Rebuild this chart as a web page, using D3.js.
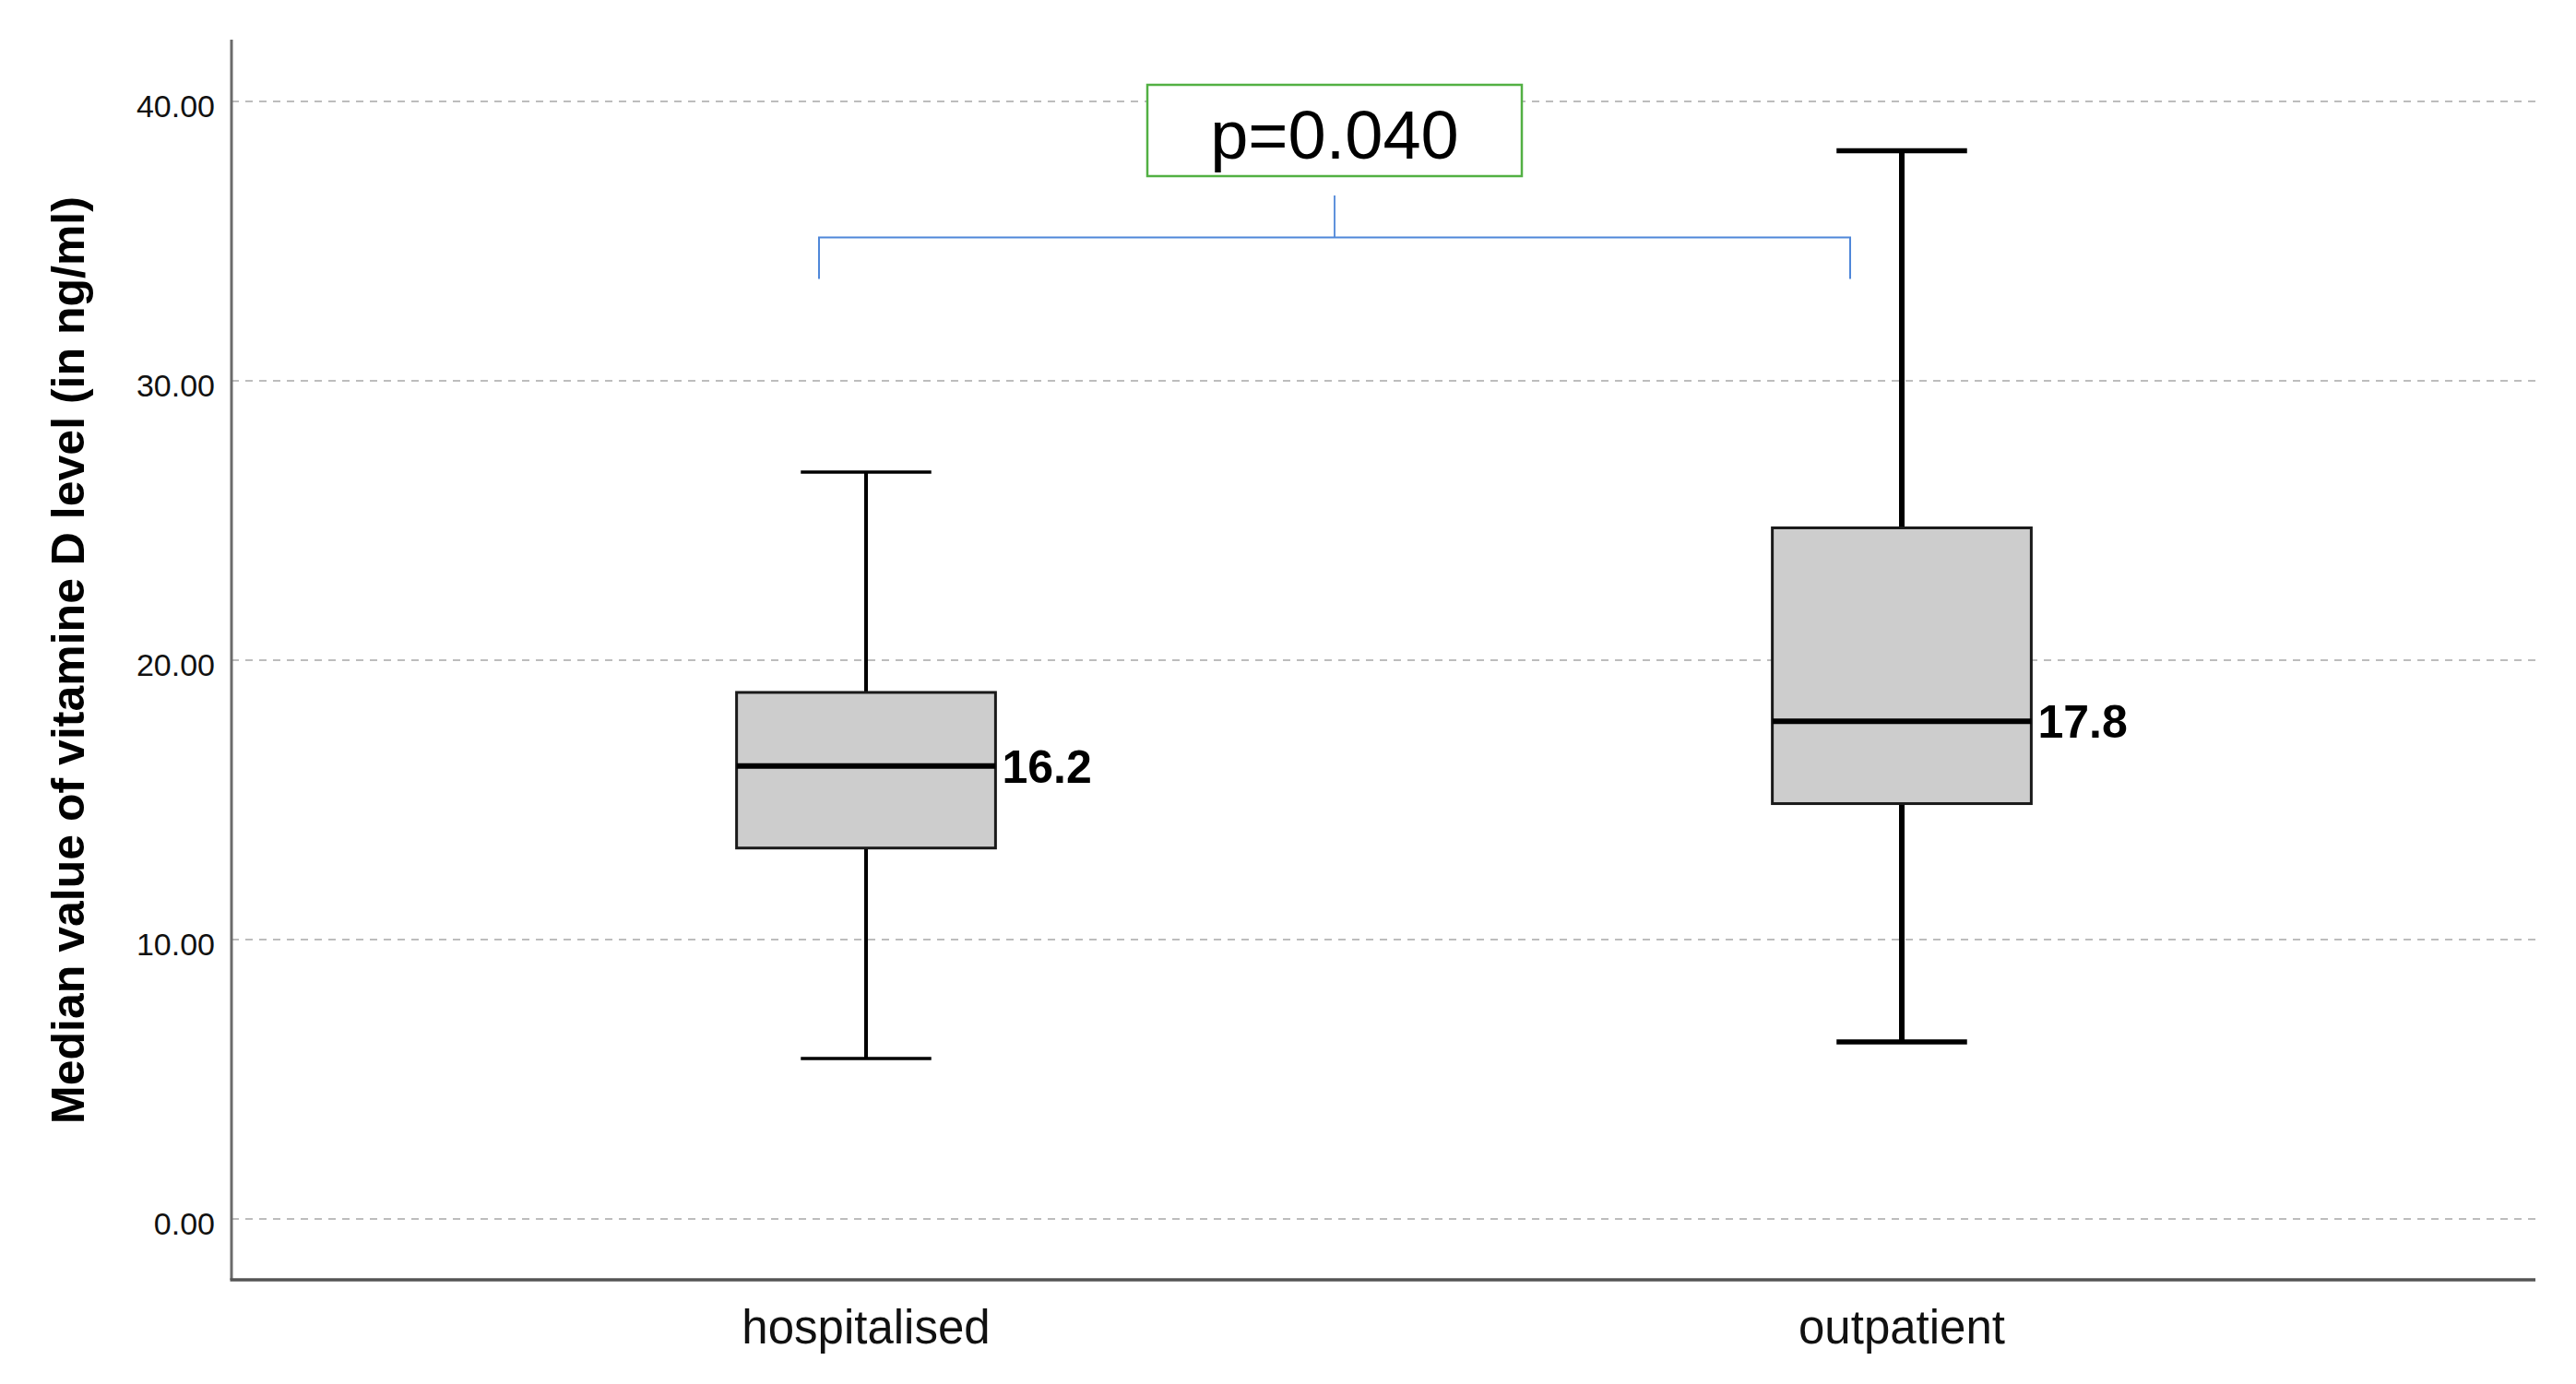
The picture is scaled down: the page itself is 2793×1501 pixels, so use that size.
<!DOCTYPE html>
<html>
<head>
<meta charset="utf-8">
<script src="https://cdn.jsdelivr.net/npm/d3@7"></script>
<style>
  html, body { margin: 0; padding: 0; background: #fff; }
  svg { display: block; }
</style>
</head>
<body>
<script>
// ---- data ----
const categories = ["hospitalised", "outpatient"];
const whiskerLow  = [5.73, 6.32];
const q1Values    = [13.26, 14.85];
const medians     = [16.2, 17.8];
const q3Values    = [18.83, 24.72];
const whiskerHigh = [26.72, 38.22];
const medianLabels = ["16.2", "17.8"];
const yTicks = [0, 10, 20, 30, 40];
const pValueText = "p=0.040";
const yTitle = "Median value of vitamine D level (in ng/ml)";

const W = 2793, H = 1501;
const svg = d3.select("body").append("svg").attr("width", W).attr("height", H);

const axisX = 251, axisTop = 43, axisBottom = 1388, plotRight = 2749;

const y = d3.scaleLinear().domain([0, 40]).range([1321.5, 109.5]);
const x = d3.scaleBand().domain(categories).range([377.5, 2623.5]);
const bw = x.bandwidth();
const boxW = bw * 0.25;
const capW = bw * 0.126;
const cx = c => x(c) + bw / 2;

const data = categories.map((c, i) => ({
  c, lo: whiskerLow[i], q1: q1Values[i], med: medians[i], q3: q3Values[i], hi: whiskerHigh[i],
  label: medianLabels[i], wW: i === 0 ? 4 : 6
}));

// gridlines
const grid = svg.append("g").attr("transform", `translate(${axisX},0)`)
  .call(d3.axisLeft(y).tickValues(yTicks).tickSize(-(plotRight - axisX)).tickFormat(""));
grid.select(".domain").remove();
grid.selectAll(".tick line")
  .attr("stroke", "#bdbdbd").attr("stroke-width", 2.2).attr("stroke-dasharray", "8,7");

// y tick labels
const yl = svg.append("g").attr("transform", `translate(233,0)`)
  .call(d3.axisLeft(y).tickValues(yTicks).tickSize(0).tickPadding(0).tickFormat(d3.format(".2f")));
yl.select(".domain").remove();
yl.selectAll(".tick text")
  .attr("font-family", "Liberation Sans, Arial, sans-serif")
  .attr("font-size", 34).attr("fill", "#111").attr("dy", "0.5em").attr("x", 0);

// axes lines
svg.append("line").attr("x1", axisX).attr("x2", axisX).attr("y1", axisTop).attr("y2", axisBottom)
  .attr("stroke", "#6b6b6b").attr("stroke-width", 3);
svg.append("line").attr("x1", axisX - 1.5).attr("x2", plotRight).attr("y1", axisBottom).attr("y2", axisBottom)
  .attr("stroke", "#555").attr("stroke-width", 3.5);

// x labels
const xl = svg.append("g").attr("transform", `translate(0,${axisBottom})`)
  .call(d3.axisBottom(x).tickSize(0).tickPadding(0));
xl.select(".domain").remove();
xl.selectAll(".tick text")
  .attr("font-family", "Liberation Sans, Arial, sans-serif")
  .attr("font-size", 51).attr("fill", "#111").attr("dy", null).attr("y", 69);

// y title
svg.append("text")
  .attr("transform", `translate(91,716) rotate(-90)`)
  .attr("text-anchor", "middle")
  .attr("font-family", "Liberation Sans, Arial, sans-serif")
  .attr("font-weight", "bold").attr("font-size", 50).attr("fill", "#000")
  .text(yTitle);

// boxplots
const g = svg.append("g");
const box = g.selectAll("g.box").data(data).join("g").attr("class", "box");

box.append("line").attr("x1", d => cx(d.c)).attr("x2", d => cx(d.c))
  .attr("y1", d => y(d.hi)).attr("y2", d => y(d.q3))
  .attr("stroke", "#000").attr("stroke-width", d => d.wW);
box.append("line").attr("x1", d => cx(d.c)).attr("x2", d => cx(d.c))
  .attr("y1", d => y(d.q1)).attr("y2", d => y(d.lo))
  .attr("stroke", "#000").attr("stroke-width", d => d.wW);
box.append("line").attr("x1", d => cx(d.c) - capW / 2).attr("x2", d => cx(d.c) + capW / 2)
  .attr("y1", d => y(d.hi)).attr("y2", d => y(d.hi))
  .attr("stroke", "#000").attr("stroke-width", d => d.wW - 0.5);
box.append("line").attr("x1", d => cx(d.c) - capW / 2).attr("x2", d => cx(d.c) + capW / 2)
  .attr("y1", d => y(d.lo)).attr("y2", d => y(d.lo))
  .attr("stroke", "#000").attr("stroke-width", d => d.wW - 0.5);
box.append("rect")
  .attr("x", d => cx(d.c) - boxW / 2).attr("width", boxW)
  .attr("y", d => y(d.q3)).attr("height", d => y(d.q1) - y(d.q3))
  .attr("fill", "#cdcdcd").attr("stroke", "#1a1a1a").attr("stroke-width", 3);
box.append("line").attr("x1", d => cx(d.c) - boxW / 2).attr("x2", d => cx(d.c) + boxW / 2)
  .attr("y1", d => y(d.med)).attr("y2", d => y(d.med))
  .attr("stroke", "#000").attr("stroke-width", 6);
box.append("text")
  .attr("x", d => cx(d.c) + boxW / 2 + 7).attr("y", d => y(d.med) + 18)
  .attr("font-family", "Liberation Sans, Arial, sans-serif")
  .attr("font-weight", "bold").attr("font-size", 50).attr("fill", "#000")
  .text(d => d.label);

// significance bracket
const bx1 = cx(categories[0]) - 51, bx2 = cx(categories[1]) - 56;
const by = 257.5, byEnd = 302.5;
const bmid = (bx1 + bx2) / 2;
const blue = "#4f87d9";
svg.append("path")
  .attr("d", `M${bx1},${byEnd} V${by} H${bx2} V${byEnd}`)
  .attr("fill", "none").attr("stroke", blue).attr("stroke-width", 2);
svg.append("line").attr("x1", bmid).attr("x2", bmid).attr("y1", 212).attr("y2", by)
  .attr("stroke", blue).attr("stroke-width", 1.8);

// p-value box
const pw = 406, ph = 99;
svg.append("rect").attr("x", bmid - pw / 2).attr("y", 92).attr("width", pw).attr("height", ph)
  .attr("fill", "#fff").attr("stroke", "#52b043").attr("stroke-width", 2.5);
svg.append("text").attr("x", bmid).attr("y", 172).attr("text-anchor", "middle")
  .attr("font-family", "Liberation Sans, Arial, sans-serif")
  .attr("font-size", 74).attr("fill", "#000")
  .text(pValueText);
</script>
</body>
</html>
